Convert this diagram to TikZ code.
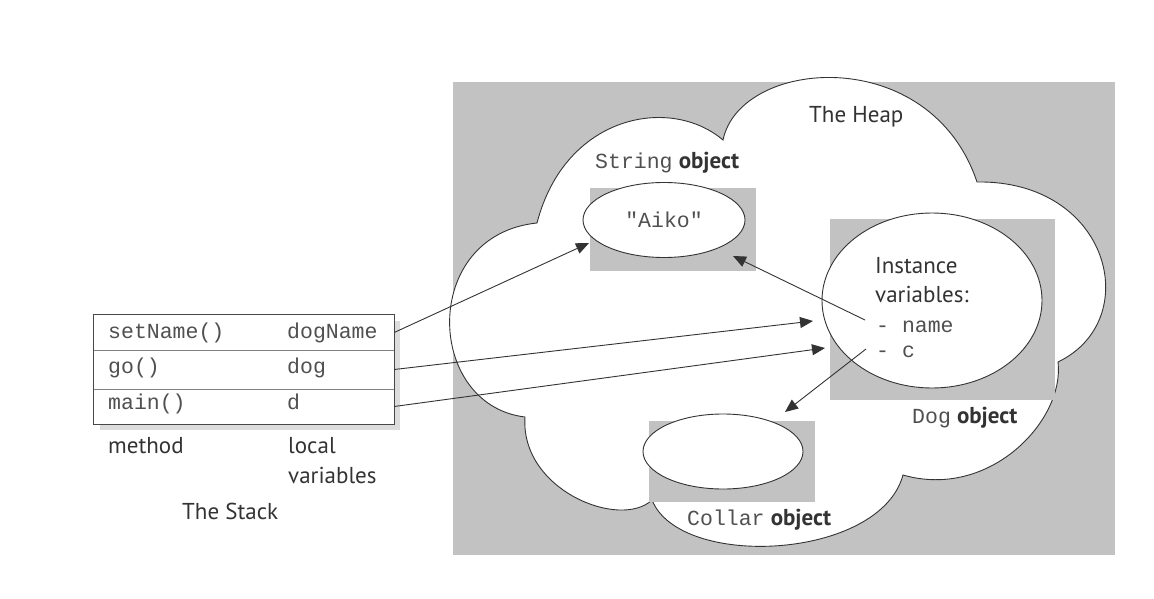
\documentclass[tikz,border=0pt]{standalone}
\usepackage{fontspec}
\usetikzlibrary{arrows.meta,shapes.geometric}
\newfontfamily\gsans{PT Sans}
\newfontfamily\cmono{Liberation Mono}
\definecolor{heapgray}{HTML}{C2C2C2}
\definecolor{shadowgray}{HTML}{DCDCDC}
\definecolor{ink}{HTML}{333333}
\definecolor{monoink}{HTML}{505050}
\begin{document}
\begin{tikzpicture}[x=1pt,y=-1pt,
  lbl/.style={inner sep=0pt,anchor=base west,text=ink,font=\gsans\fontsize{23}{27}\selectfont},
  mono/.style={inner sep=0pt,anchor=base west,text=monoink,font=\cmono\fontsize{21.5}{25}\selectfont},
  objbox/.style={fill=heapgray,draw=none},
  objell/.style={ellipse,draw=ink,line width=0.9pt,fill=white,inner sep=0pt},
  arr/.style={draw=ink,line width=0.9pt,-{Triangle[length=13pt,width=11pt]}},
  rowbox/.style={minimum width=300pt,inner sep=0pt,draw=none}
]
\useasboundingbox (0,0) rectangle (1154,599);
% heap background
\fill[heapgray] (453,82) rectangle (1115,555);
% cloud
\draw[fill=white,draw=ink,line width=0.9pt]
 (537,223) .. controls (565,115) and (670,95) .. (723,140)
 .. controls (740,58) and (930,42) .. (977,182)
 .. controls (1110,180) and (1145,320) .. (1058,362)
 .. controls (1065,420) and (990,500) .. (903,475)
 .. controls (880,560) and (680,570) .. (652,500)
 .. controls (620,530) and (520,490) .. (525,417)
 .. controls (425,405) and (420,235) .. (537,223) -- cycle;
\node[lbl] (heap) at (809,123) {The Heap};
% String object
\fill[objbox] (590,188) rectangle (756,271);
\node[objell,minimum width=162pt,minimum height=75pt] (aiko) at (664,220) {};
\node[mono,anchor=base] (aikotxt) at (664,227) {"Aiko"};
\node[lbl] (strlbl) at (595,168) {{\cmono\fontsize{21.5}{25}\selectfont\color{monoink}String} \bfseries object};
% Dog object
\fill[objbox] (830,219) rectangle (1055,400);
\node[objell,minimum width=220pt,minimum height=175pt] (dog) at (932,300.5) {};
\node[lbl] (inst) at (875,273) {Instance};
\node[lbl] (vars) at (875,302) {variables:};
\node[mono] (fname) at (876,332) {- name};
\node[mono] (fc) at (876,357) {- c};
\node[lbl] (doglbl) at (912,423) {{\cmono\fontsize{21.5}{25}\selectfont\color{monoink}Dog} \bfseries object};
% Collar object
\fill[objbox] (649,421) rectangle (815,502);
\node[objell,minimum width=160pt,minimum height=75pt] (collar) at (723,451.5) {};
\node[lbl] (collbl) at (687,525) {{\cmono\fontsize{21.5}{25}\selectfont\color{monoink}Collar} \bfseries object};
% The stack
\fill[shadowgray] (100,321) rectangle (400,430);
\node[rowbox,minimum height=35pt] (row1) at (244,332.5) {};
\node[rowbox,minimum height=39pt] (row2) at (244,369.5) {};
\node[rowbox,minimum height=35pt] (row3) at (244,406.5) {};
\fill[white] (row1.north west) rectangle (row3.south east);
\draw[draw=gray,line width=0.9pt] (row1.south west) -- (row1.south east);
\draw[draw=gray,line width=0.9pt] (row2.south west) -- (row2.south east);
\draw[draw=ink!90,line width=0.9pt] (row1.north west) rectangle (row3.south east);
\node[mono] (m1) at (108,338) {setName()};
\node[mono] (v1) at (287,338) {dogName};
\node[mono] (m2) at (108,373) {go()};
\node[mono] (v2) at (287,373) {dog};
\node[mono] (m3) at (108,409) {main()};
\node[mono] (v3) at (287,409) {d};
\node[lbl] (method) at (108,453) {method};
\node[lbl] (local) at (288,453) {local};
\node[lbl] (localv) at (288,483) {variables};
\node[lbl] (stack) at (182,519) {The Stack};
% arrow ends
\coordinate (tipAiko) at (589,243);
\coordinate (tipDog1) at (813,321);
\coordinate (tipDog2) at (825,348);
\coordinate (nameStart) at (865,320);
\coordinate (tipAiko2) at (733,256);
\coordinate (cStart) at (866,349);
\coordinate (tipCollar) at (785,412);
\draw[arr] (row1.east) -- (tipAiko);
\draw[arr] (row2.east) -- (tipDog1);
\draw[arr] (row3.east) -- (tipDog2);
\draw[arr] (nameStart) -- (tipAiko2);
\draw[arr] (cStart) -- (tipCollar);
\end{tikzpicture}
\end{document}
